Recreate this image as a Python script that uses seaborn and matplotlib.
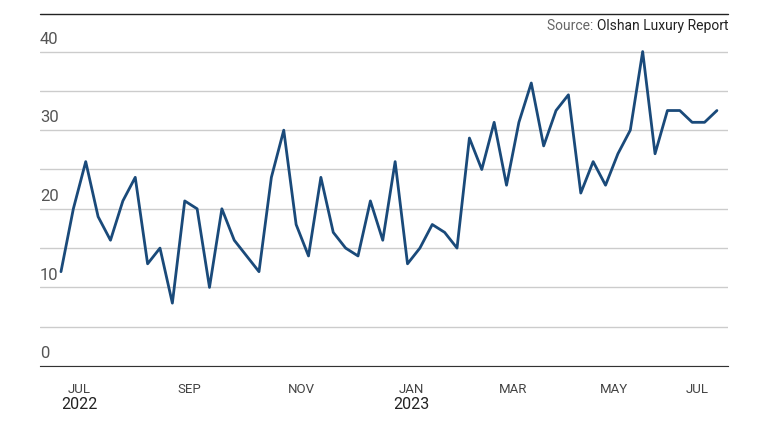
import numpy as np
import pandas as pd
import matplotlib
matplotlib.use('Agg')
import matplotlib.pyplot as plt
from matplotlib.offsetbox import AnchoredOffsetbox, HPacker, TextArea
import seaborn as sns

sns.set_style("white")
plt.rcParams['font.family'] = ['Roboto', 'DejaVu Sans']

values = [12, 20, 26, 19, 16, 21, 24, 13, 15, 8, 21, 20, 10, 20, 16, 14, 12, 24, 30, 18,
          14, 24, 17, 15, 14, 21, 16, 26, 13, 15, 18, 17, 15, 29, 25, 31, 23, 31, 36, 28,
          32.5, 34.5, 22, 26, 23, 27, 30, 40, 27, 32.5, 32.5, 31, 31, 32.5]
week = np.arange(len(values))
tick_pos = [1.5, 10.4, 19.4, 28.3, 36.5, 44.7, 51.4]
tick_labels = ['JUL', 'SEP', 'NOV', 'JAN', 'MAR', 'MAY', 'JUL']
year_pos = [1.5, 28.3]
year_labels = ['2022', '2023']

df = pd.DataFrame({'week': week, 'value': values})

fig = plt.figure(figsize=(7.68, 4.48), dpi=100)
ax = fig.add_axes([0.052, 0.183, 0.896, 0.737])
sns.lineplot(data=df, x='week', y='value', ax=ax, color='#1a4a7a', linewidth=2)

ax.set_xlim(-1.7, 53.9)
ax.set_ylim(0, 42)
ax.set_yticks(range(0, 41, 5))
ax.yaxis.grid(True, color='#cccccc', linewidth=1)
ax.set_yticklabels([])
ax.tick_params(axis='y', length=0)
for v in (0, 10, 20, 30, 40):
    ax.text(-1.7, v + 0.6, str(v), fontsize=12, color='#555555', ha='left', va='bottom')

ax.set_xticks(tick_pos)
ax.set_xticklabels(tick_labels, fontsize=9.5, color='#444444')
ax.tick_params(axis='x', length=0, pad=12)
for p, l in zip(year_pos, year_labels):
    ax.text(p, -3.9, l, fontsize=11.5, color='#222222', ha='center', va='top')

for s in ('top', 'right', 'left'):
    ax.spines[s].set_visible(False)
ax.spines['bottom'].set_color('#333333')
ax.set_xlabel('')
ax.set_ylabel('')

fig.add_artist(plt.Line2D([0.052, 0.948], [1 - 14 / 448] * 2, color='#222222', linewidth=1))
src = HPacker(children=[TextArea('Source: ', textprops=dict(fontsize=10, color='#666666')),
                        TextArea('Olshan Luxury Report', textprops=dict(fontsize=10, color='#222222'))],
              align='baseline', pad=0, sep=0)
box = AnchoredOffsetbox(loc='upper right', child=src, frameon=False, pad=0, borderpad=0,
                        bbox_to_anchor=(0.948, 1 - 19 / 448), bbox_transform=fig.transFigure)
fig.add_artist(box)

fig.savefig('out.png', dpi=100)
